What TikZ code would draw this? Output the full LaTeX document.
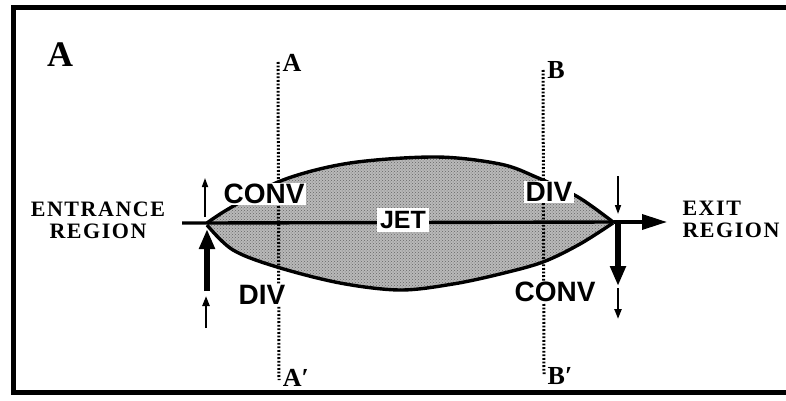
\documentclass[tikz,border=0pt]{standalone}
\usepackage{fontspec}
\newfontfamily\sansb{Liberation Sans}[BoldFont={Liberation Sans Bold}]
\newfontfamily\serifb{Liberation Serif}[BoldFont={Liberation Serif Bold}]
\newfontfamily\serifsp{Liberation Serif}[BoldFont={Liberation Serif Bold},LetterSpace=7]
\usetikzlibrary{arrows.meta,patterns}
\begin{document}
\begin{tikzpicture}[x=1pt,y=-1pt,
  frameline/.style={line width=5pt},
  curveline/.style={line width=3.4pt},
  dotline/.style={line width=3pt,dash pattern=on 1.8pt off 1.8pt},
  axisline/.style={line width=3.4pt},
  zonelabel/.style={fill=white,inner sep=1.5pt,font=\sansb\bfseries\fontsize{28}{28}\selectfont},
  regionlabel/.style={inner sep=0pt,align=center,font=\serifsp\bfseries\fontsize{22}{22}\selectfont},
  seclabel/.style={inner sep=0pt,font=\serifb\bfseries\fontsize{26}{26}\selectfont},
  bigarrow/.style={line width=5.5pt,-{Triangle[length=20pt,width=15pt]}},
  smallarrow/.style={line width=1.6pt,-{Triangle[length=9pt,width=6pt]}},
  midarrow/.style={line width=2.2pt,-{Triangle[length=10pt,width=7pt]}}]
\useasboundingbox (0,0) rectangle (786,401);
% frame (open at right)
\draw[frameline] (786,8) -- (13,8) -- (13,392) -- (786,392);
\node[inner sep=0pt,font=\serifb\bfseries\fontsize{36}{36}\selectfont] (bigA) at (60,55) {A};
% lens
\fill[gray!55] (207,224) -- plot[smooth,tension=0.55] coordinates {(207,223) (230,208) (283,180) (350,163) (436,157) (500,164) (536,177) (578,197) (613,222)}
  -- plot[smooth,tension=0.55] coordinates {(613,223) (580,244) (543,262) (500,274) (453,284) (400,290) (340,283) (277,267) (233,250) (207,225)} -- cycle;
\fill[pattern=crosshatch dots,pattern color=black!60] (207,224) -- plot[smooth,tension=0.55] coordinates {(207,223) (230,208) (283,180) (350,163) (436,157) (500,164) (536,177) (578,197) (613,222)}
  -- plot[smooth,tension=0.55] coordinates {(613,223) (580,244) (543,262) (500,274) (453,284) (400,290) (340,283) (277,267) (233,250) (207,225)} -- cycle;
% section lines
\coordinate (Atop) at (278,62);
\coordinate (Abot) at (279,380);
\coordinate (Btop) at (543,70);
\coordinate (Bbot) at (544,375);
\draw[dotline] (Atop) -- (Abot);
\draw[dotline] (Btop) -- (Bbot);
% boundaries
\draw[curveline] plot[smooth,tension=0.55] coordinates {(207,223) (230,208) (283,180) (350,163) (436,157) (500,164) (536,177) (578,197) (613,222)};
\draw[curveline] plot[smooth,tension=0.55] coordinates {(613,223) (580,244) (543,262) (500,274) (453,284) (400,290) (340,283) (277,267) (233,250) (207,225)};
% axis
\coordinate (inlet) at (182,223);
\coordinate (apexL) at (207,223);
\coordinate (apexR) at (614,222);
\coordinate (outlet) at (667,222);
\draw[axisline] (inlet) -- (apexL) -- (apexR);
\draw[axisline,-{Triangle[length=25pt,width=15pt]}] (apexR) -- (outlet);
% labels
\node[zonelabel] (convU) at (264,194) {CONV};
\node[zonelabel] (divL) at (262,295) {DIV};
\node[zonelabel] (divU) at (549,192) {DIV};
\node[zonelabel] (convL) at (555,292) {CONV};
\node[zonelabel,inner sep=3pt,font=\sansb\bfseries\fontsize{25}{25}\selectfont] (jet) at (403,220) {JET};
\node[regionlabel] (entr) at (98,220) {ENTRANCE\\REGION};
\node[regionlabel,align=left] (exitr) at (731,219) {EXIT\\REGION};
\node[seclabel] (labA) at (292,63) {A};
\node[seclabel] (labAp) at (296,378) {A′};
\node[seclabel] (labB) at (556,70) {B};
\node[seclabel] (labBp) at (560,376) {B′};
% pressure arrows left
\coordinate (l1a) at (205,217); \coordinate (l1b) at (205,178);
\coordinate (l2a) at (207,291); \coordinate (l2b) at (207,229);
\coordinate (l3a) at (206,328); \coordinate (l3b) at (206,296);
\draw[smallarrow] (l1a) -- (l1b);
\draw[bigarrow] (l2a) -- (l2b);
\draw[midarrow] (l3a) -- (l3b);
% pressure arrows right
\coordinate (r1a) at (618,176); \coordinate (r1b) at (618,214);
\coordinate (r2a) at (618,224); \coordinate (r2b) at (618,286);
\coordinate (r3a) at (618,288); \coordinate (r3b) at (618,319);
\draw[smallarrow] (r1a) -- (r1b);
\draw[bigarrow] (r2a) -- (r2b);
\draw[midarrow] (r3a) -- (r3b);
\end{tikzpicture}
\end{document}
